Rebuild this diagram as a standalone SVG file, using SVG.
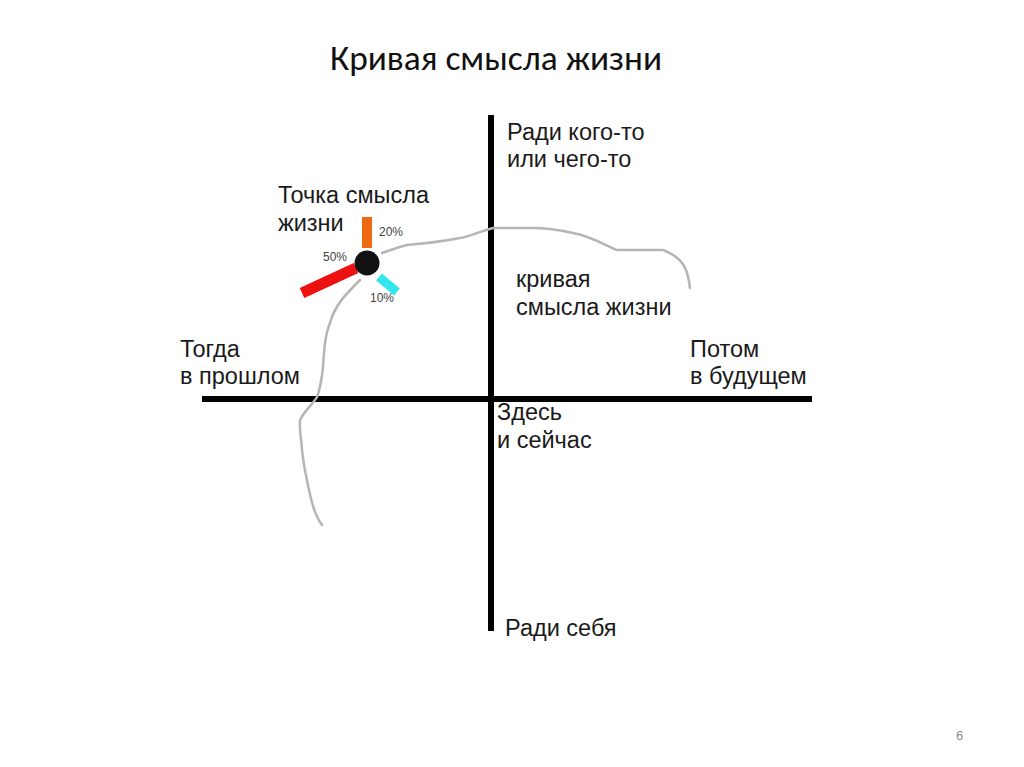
<svg xmlns="http://www.w3.org/2000/svg" width="1024" height="767" viewBox="0 0 1024 767">
<style>
.t{font-family:"Liberation Sans",Arial,sans-serif;font-size:23.5px;fill:#1a1a1a}
.p{font-family:"Liberation Sans",Arial,sans-serif;font-size:12px;fill:#444}
.ax{stroke:#000;stroke-width:6;fill:none}
</style>
<rect width="1024" height="767" fill="#fff"/>
<text x="330" y="70" font-family="Carlito,'Liberation Sans',sans-serif" font-size="35" fill="#111" textLength="332" lengthAdjust="spacingAndGlyphs">Кривая смысла жизни</text>
<g id="connectors">
<line class="ax" x1="491" y1="115" x2="491" y2="631"/>
<line class="ax" x1="202" y1="399" x2="812" y2="399"/>
<path id="curve" d="M690,288 C688,270 684,258 663,250 L617,250 C605,245 590,236 573,233 C555,229 540,228 533,228 L493,228 C475,233 468,237 460,238 C445,241 430,243 407,245 C395,248 388,251 382,253 M360,280 C345,295 335,305 330,323 C325,335 324,350 323,367 C321,385 319,392 317,397 C313,404 305,410 300,420 C299,430 302,443 302,450 C304,470 307,480 309,490 C312,505 316,517 322,525" fill="none" stroke="#b5b5b5" stroke-width="2.5" stroke-linecap="round"/>
</g>
<g id="point">
<rect x="362" y="217" width="10" height="31" fill="#ee6a12"/>
<line x1="302" y1="293" x2="356" y2="268" stroke="#ee1111" stroke-width="11"/>
<line x1="379" y1="277" x2="397" y2="292" stroke="#33e6ee" stroke-width="9"/>
<circle cx="367" cy="263" r="12.5" fill="#111"/>
<text class="p" x="379" y="236">20%</text>
<text class="p" x="323" y="261">50%</text>
<text class="p" x="370" y="302">10%</text>
</g>
<g id="labels">
<text class="t" x="278" y="203">Точка смысла</text>
<text class="t" x="278" y="231">жизни</text>
<text class="t" x="507" y="140">Ради кого-то</text>
<text class="t" x="507" y="167">или чего-то</text>
<text class="t" x="516" y="287">кривая</text>
<text class="t" x="516" y="315">смысла жизни</text>
<text class="t" x="180" y="357">Тогда</text>
<text class="t" x="180" y="384">в прошлом</text>
<text class="t" x="690" y="357">Потом</text>
<text class="t" x="690" y="384">в будущем</text>
<text class="t" x="497" y="420">Здесь</text>
<text class="t" x="497" y="448">и сейчас</text>
<text class="t" x="505" y="636">Ради себя</text>
</g>
<text x="956" y="740" font-family="'Liberation Sans',sans-serif" font-size="13" fill="#888">6</text>
</svg>
